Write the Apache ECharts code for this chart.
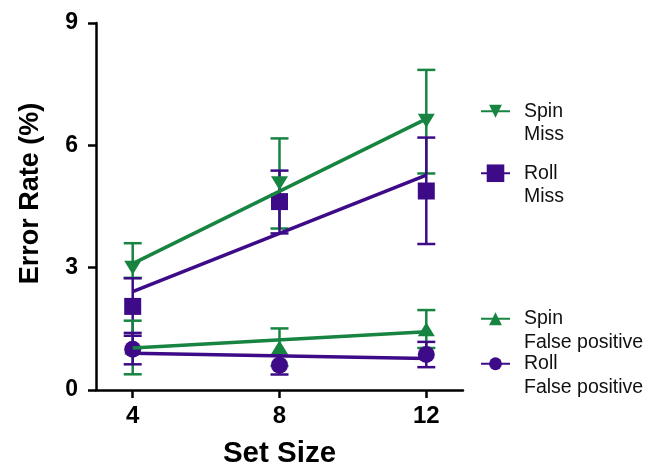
<!DOCTYPE html>
<html>
<head>
<meta charset="utf-8">
<script src="https://cdn.jsdelivr.net/npm/echarts@6/dist/echarts.min.js"></script>
<style>
html,body{margin:0;padding:0;background:#fff;}
#chart{width:662px;height:465px;}
</style>
</head>
<body>
<div id="chart"></div>
<script>
// ---- data ----
const setSizes = [4, 8, 12];
const xTicks = [4, 8, 12];
const yTicks = [0, 3, 6, 9];

const spinMiss     = [3.0, 5.07, 6.6];
const spinMissLow  = [2.75, 3.96, 5.31];
const spinMissHigh = [3.6, 6.17, 7.85];

const rollMiss     = [2.05, 4.62, 4.88];
const rollMissLow  = [1.33, 3.84, 3.58];
const rollMissHigh = [2.74, 5.38, 6.19];

const spinFP     = [1.04, 1.05, 1.49];
const spinFPLow  = [0.385, 0.59, 1.03];
const spinFPHigh = [1.70, 1.51, 1.96];

const rollFP     = [1.0, 0.61, 0.87];
const rollFPLow  = [0.63, 0.38, 0.56];
const rollFPHigh = [1.40, 0.84, 1.18];

// fitted (regression) lines: values at first and last set size
const fitX = [4, 12];
const spinMissFit = [3.1, 6.65];
const rollMissFit = [2.41, 5.27];
const spinFPFit   = [1.03, 1.43];
const rollFPFit   = [0.90, 0.77];

const legendNames = ['Spin\nMiss', 'Roll\nMiss', 'Spin\nFalse positive', 'Roll\nFalse positive'];

// ---- styling ----
const GREEN = '#178441';
const PURPLE = '#3d0b88';
const FONT = '"Liberation Sans", Arial, Helvetica, sans-serif';
const DOWN_TRI = 'path://M0,0L10,0L5,10Z';

function pairs(xs, ys) { return xs.map((x, i) => [x, ys[i]]); }
function triples(xs, lo, hi) { return xs.map((x, i) => [x, lo[i], hi[i]]); }

function errRender(color) {
  return function (params, api) {
    const x = api.value(0), lo = api.value(1), hi = api.value(2);
    const pL = api.coord([x, lo]);
    const pH = api.coord([x, hi]);
    const w = 9;
    const st = { stroke: color, lineWidth: 2.5, fill: null };
    return {
      type: 'group',
      children: [
        { type: 'line', shape: { x1: pL[0], y1: pL[1], x2: pH[0], y2: pH[1] }, style: st },
        { type: 'line', shape: { x1: pL[0] - w, y1: pL[1], x2: pL[0] + w, y2: pL[1] }, style: st },
        { type: 'line', shape: { x1: pH[0] - w, y1: pH[1], x2: pH[0] + w, y2: pH[1] }, style: st }
      ]
    };
  };
}

function group(name, color, symbol, size, vals, lo, hi, fit) {
  return [
    {
      name: name + '_err', type: 'custom', renderItem: errRender(color),
      data: triples(setSizes, lo, hi), encode: { x: 0, y: [1, 2] }, silent: true
    },
    {
      name: name, type: 'line', data: pairs(fitX, fit), color: color,
      showSymbol: false, symbol: symbol, symbolSize: size,
      lineStyle: { color: color, width: 3.5 }, itemStyle: { color: color }, silent: true
    },
    {
      name: name + '_pts', type: 'scatter', data: pairs(setSizes, vals), color: color,
      symbol: symbol, symbolSize: size, itemStyle: { color: color, opacity: 1 }, silent: true
    }
  ];
}

const series = [].concat(
  group(legendNames[0], GREEN, DOWN_TRI, [17, 14], spinMiss, spinMissLow, spinMissHigh, spinMissFit),
  group(legendNames[1], PURPLE, 'rect', 17, rollMiss, rollMissLow, rollMissHigh, rollMissFit),
  group(legendNames[2], GREEN, 'triangle', [17, 14], spinFP, spinFPLow, spinFPHigh, spinFPFit),
  group(legendNames[3], PURPLE, 'circle', 17, rollFP, rollFPLow, rollFPHigh, rollFPFit)
);

function legendAt(name, iconCenterY, itemH) {
  return {
    data: [name], orient: 'vertical', left: 480, top: iconCenterY - 35 + 1,
    padding: 0, itemWidth: 29, itemHeight: itemH, selectedMode: false,
    formatter: function (n) { return ' \n' + n; },
    textStyle: { fontFamily: FONT, fontSize: 19.5, lineHeight: 23.5, color: '#111', padding: [0, 0, 0, 9] }
  };
}

const chart = echarts.init(document.getElementById('chart'), null, { renderer: 'canvas' });
chart.setOption({
  animation: false,
  backgroundColor: '#fff',
  grid: { left: 96, right: 199, top: 23, bottom: 75, containLabel: false, outerBoundsMode: 'none' },
  xAxis: {
    type: 'value', min: 3, max: 13,
    name: 'Set Size', nameLocation: 'middle', nameGap: 49,
    nameTextStyle: { fontFamily: FONT, fontSize: 29.5, fontWeight: 'bold', color: '#000' },
    axisLine: { lineStyle: { color: '#000', width: 2.5 } },
    axisTick: { show: true, length: 8, lineStyle: { color: '#000', width: 2.5 }, customValues: xTicks },
    axisLabel: { customValues: xTicks, margin: 14, fontFamily: FONT, fontSize: 24, fontWeight: 'bold', color: '#000' },
    splitLine: { show: false }
  },
  yAxis: {
    type: 'value', min: 0, max: 9, interval: 3,
    name: 'Error Rate (%)', nameLocation: 'middle', nameGap: 52,
    nameTextStyle: { fontFamily: FONT, fontSize: 27, fontWeight: 'bold', color: '#000', padding: [0, 0, 0, 26] },
    axisLine: { show: true, lineStyle: { color: '#000', width: 2.5 } },
    axisTick: { show: true, length: 8, lineStyle: { color: '#000', width: 2.5 }, customValues: yTicks },
    axisLabel: { customValues: yTicks, margin: 18, fontFamily: FONT, fontSize: 23, fontWeight: 'bold', color: '#000' },
    splitLine: { show: false }
  },
  legend: [
    legendAt(legendNames[0], 110, 16),
    legendAt(legendNames[1], 172, 22),
    legendAt(legendNames[2], 317.5, 16),
    legendAt(legendNames[3], 362.5, 16)
  ],
  series: series
});
</script>
</body>
</html>
